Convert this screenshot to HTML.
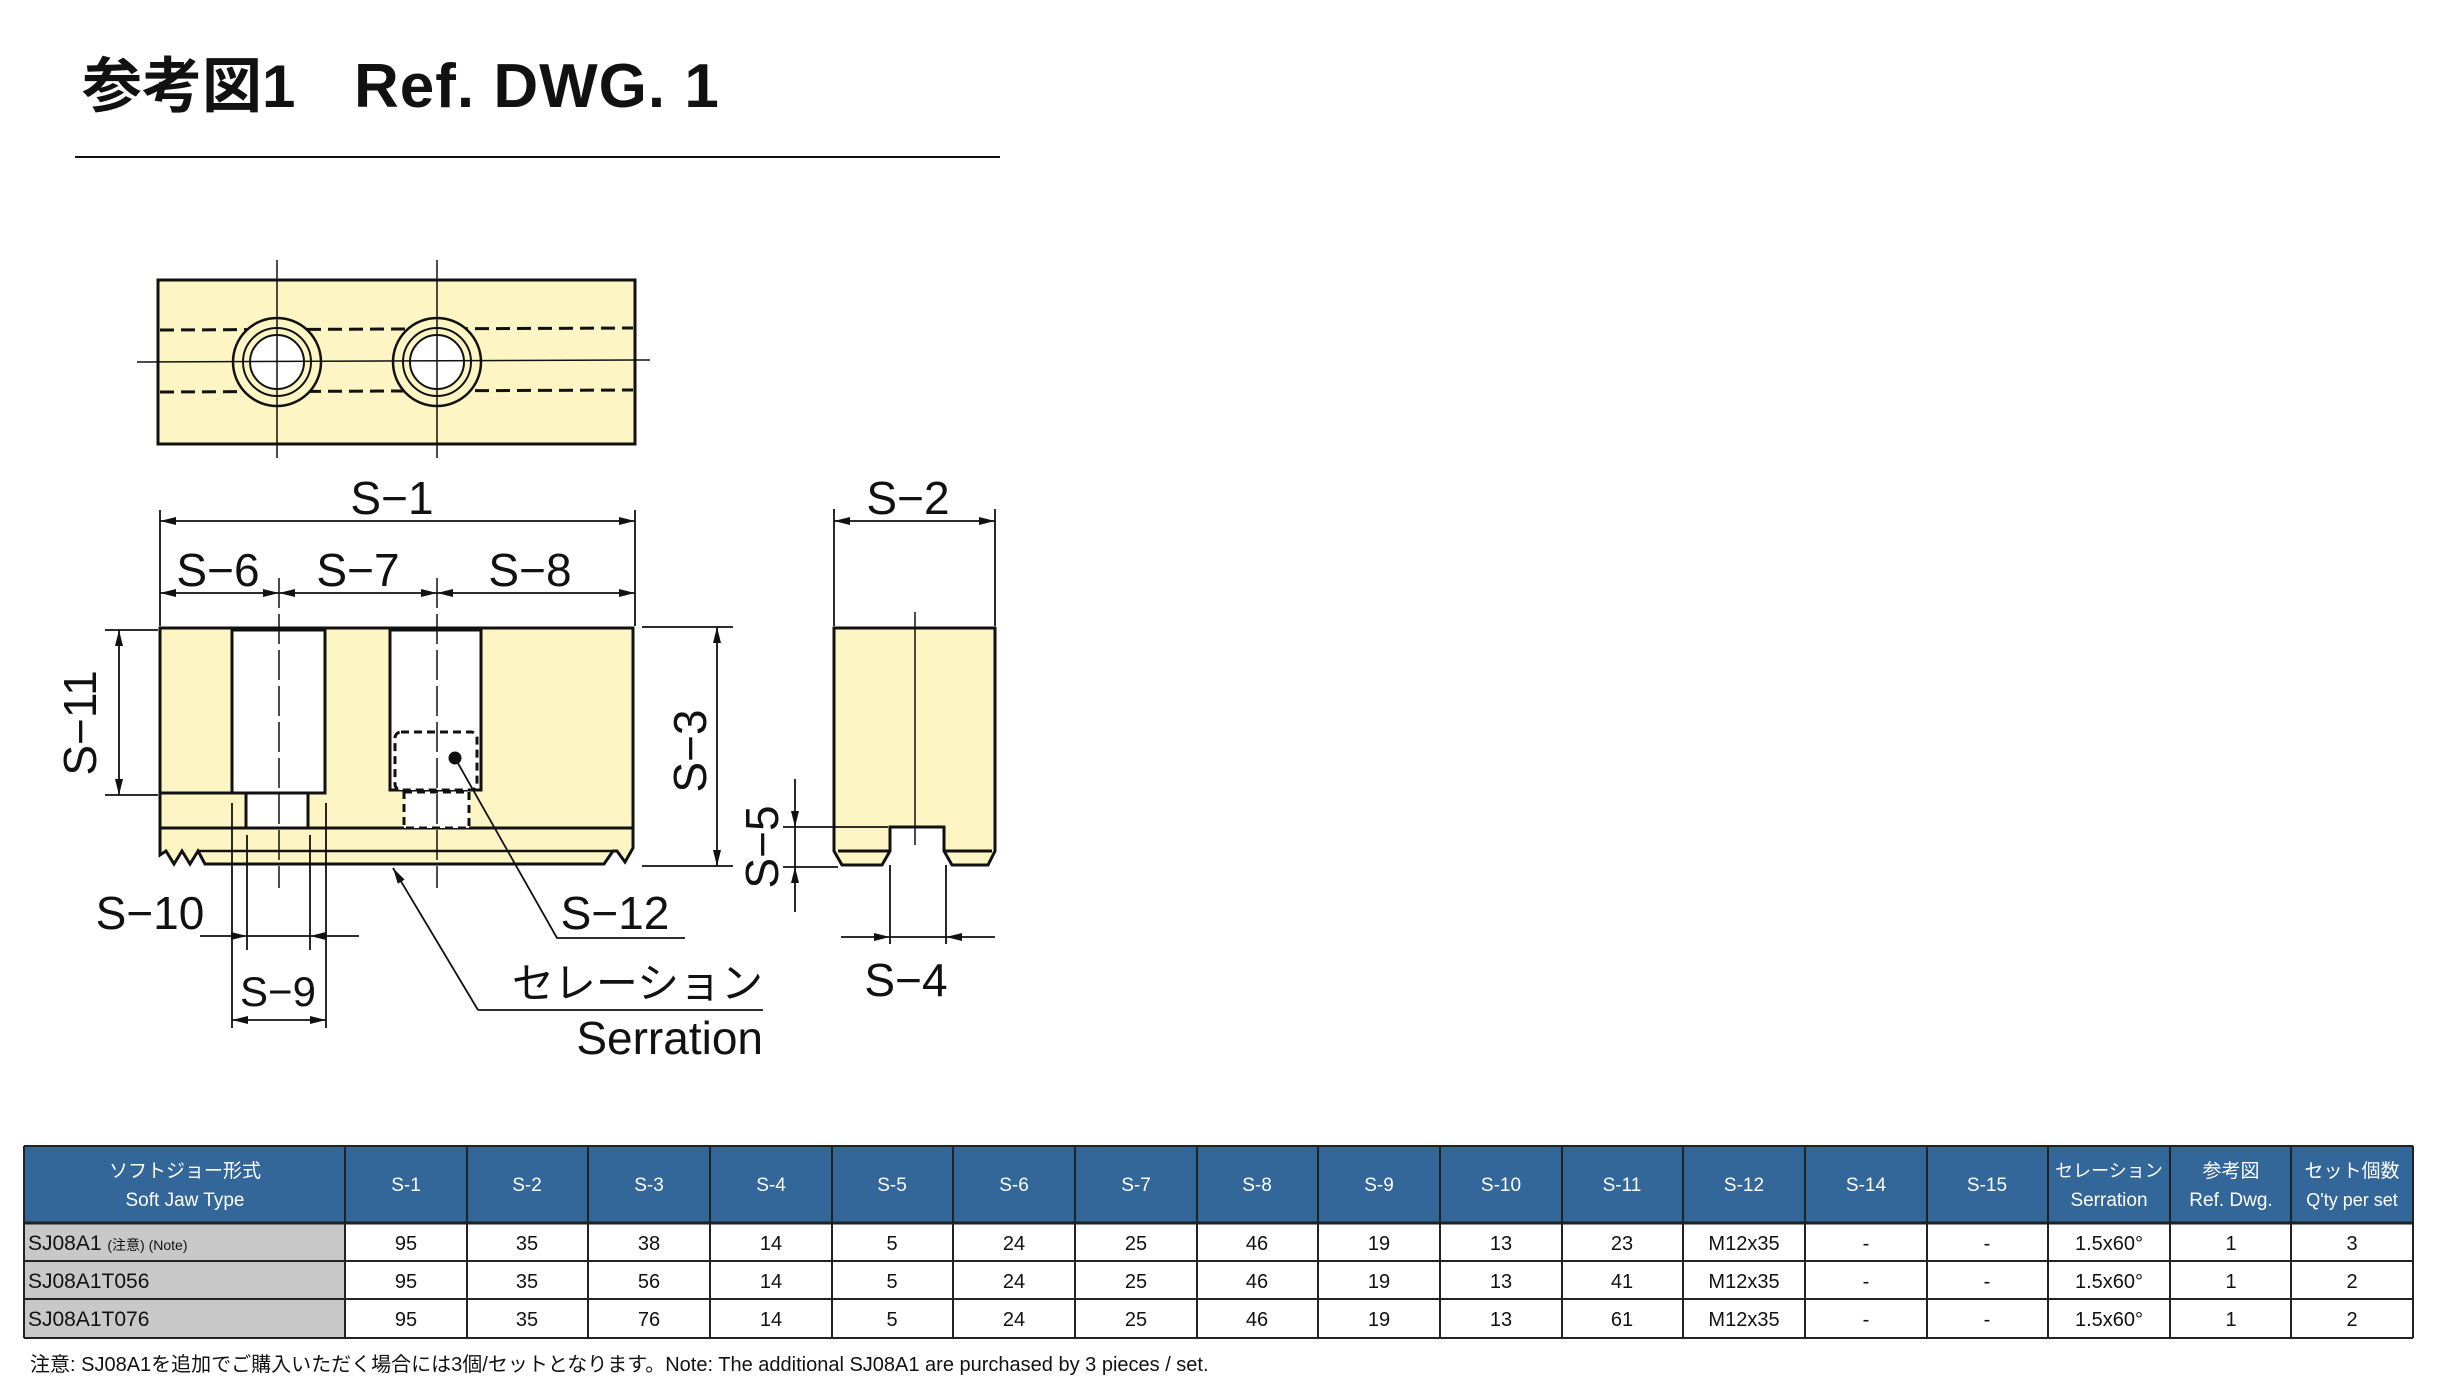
<!DOCTYPE html>
<html><head><meta charset="utf-8"><style>
html,body{margin:0;padding:0;background:#fff;}
svg{display:block;}
text{font-family:"Liberation Sans","Noto Sans CJK JP",sans-serif;}
</style></head><body>
<svg width="2443" height="1400" viewBox="0 0 2443 1400" xmlns="http://www.w3.org/2000/svg">
<defs>
<marker id="a" viewBox="0 0 16 8" refX="16" refY="4" markerWidth="16" markerHeight="8" markerUnits="userSpaceOnUse" orient="auto-start-reverse"><path d="M0,0 L16,4 L0,8 Z" fill="#111"/></marker>
</defs>
<text x="82" y="107" font-size="60" font-weight="bold" fill="#111">参考図1</text>
<text x="354" y="107" font-size="62" fill="#111" font-weight="bold" letter-spacing="1">Ref. DWG. 1</text>
<line x1="75" y1="157" x2="1000" y2="157" stroke="#111" stroke-width="2"/>

<g stroke="#111" fill="none" stroke-width="3">
<rect x="158" y="280" width="477" height="164" fill="#fdf6c4"/>
<line x1="160" y1="330" x2="633" y2="328" stroke-dasharray="14,7"/>
<line x1="160" y1="392" x2="633" y2="390" stroke-dasharray="14,7"/>
<circle cx="277" cy="362" r="44" fill="#fdf6c4" stroke-width="2.5"/>
<circle cx="277" cy="362" r="34" fill="#fdf6c4" stroke-width="2"/>
<circle cx="277" cy="362" r="27" fill="#fff" stroke-width="2"/>
<circle cx="437" cy="362" r="44" fill="#fdf6c4" stroke-width="2.5"/>
<circle cx="437" cy="362" r="34" fill="#fdf6c4" stroke-width="2"/>
<circle cx="437" cy="362" r="27" fill="#fff" stroke-width="2"/>
<g stroke-width="1.5">
<line x1="277" y1="260" x2="277" y2="458"/><line x1="437" y1="260" x2="437" y2="458"/>
<line x1="137" y1="362" x2="650" y2="360"/>
</g>

<path d="M160,628 H633 V848 L625,862 L617,851 L613,851 L604,864 H205 L198,851 L190,864 L182,851 L174,864 L166,851 L160,855 Z" fill="#fdf6c4"/>
<line x1="160" y1="828" x2="633" y2="828"/>
<line x1="198" y1="851" x2="613" y2="851" stroke-width="2.5"/>
<line x1="160" y1="793" x2="232" y2="793"/>
<rect x="232" y="630" width="93" height="163" fill="#fff"/>
<rect x="246" y="793" width="62" height="35" fill="#fff"/>
<rect x="390" y="630" width="91" height="160" fill="#fff"/>
<rect x="395" y="732" width="82" height="58" rx="6" fill="#fff" stroke-dasharray="8,5"/>
<rect x="404" y="792" width="65" height="36" fill="#fff" stroke-dasharray="8,5"/>
<circle cx="455" cy="758" r="5" fill="#111"/>
<g stroke-width="1.5">
<line x1="279" y1="578" x2="279" y2="888" stroke-dasharray="30,6"/>
<line x1="437" y1="578" x2="437" y2="888" stroke-dasharray="30,6"/>
</g>

<path d="M834,628 H995 V851 L988,865 H952 L944,851 V827 H890 V851 L882,865 H842 L834,851 Z" fill="#fdf6c4"/>
<line x1="838" y1="851" x2="890" y2="851"/><line x1="944" y1="851" x2="992" y2="851"/>
<line x1="915" y1="612" x2="915" y2="845" stroke-width="1.5"/>
</g>

<g stroke="#111" stroke-width="1.8" fill="none">
<line x1="160" y1="510" x2="160" y2="626"/><line x1="635" y1="510" x2="635" y2="626"/>
<line x1="160" y1="521" x2="635" y2="521" marker-start="url(#a)" marker-end="url(#a)"/>
<line x1="160" y1="593" x2="279" y2="593" marker-start="url(#a)" marker-end="url(#a)"/>
<line x1="279" y1="593" x2="437" y2="593" marker-start="url(#a)" marker-end="url(#a)"/>
<line x1="437" y1="593" x2="635" y2="593" marker-start="url(#a)" marker-end="url(#a)"/>
<line x1="105" y1="630" x2="158" y2="630"/><line x1="105" y1="795" x2="158" y2="795"/>
<line x1="119" y1="630" x2="119" y2="795" marker-start="url(#a)" marker-end="url(#a)"/>
<line x1="642" y1="627" x2="733" y2="627"/><line x1="642" y1="866" x2="733" y2="866"/>
<line x1="717" y1="627" x2="717" y2="866" marker-start="url(#a)" marker-end="url(#a)"/>
<line x1="834" y1="509" x2="834" y2="626"/><line x1="995" y1="509" x2="995" y2="626"/>
<line x1="834" y1="521" x2="995" y2="521" marker-start="url(#a)" marker-end="url(#a)"/>
<line x1="783" y1="827" x2="888" y2="827"/><line x1="783" y1="867" x2="838" y2="867"/>
<line x1="795" y1="779" x2="795" y2="827" marker-end="url(#a)"/>
<line x1="795" y1="912" x2="795" y2="867" marker-end="url(#a)"/>
<line x1="795" y1="827" x2="795" y2="867"/>
<line x1="890" y1="865" x2="890" y2="944"/><line x1="946" y1="865" x2="946" y2="944"/>
<line x1="841" y1="937" x2="890" y2="937" marker-end="url(#a)"/>
<line x1="995" y1="937" x2="946" y2="937" marker-end="url(#a)"/>
<line x1="890" y1="937" x2="946" y2="937"/>
<line x1="232" y1="803" x2="232" y2="1028"/><line x1="326" y1="803" x2="326" y2="1028"/>
<line x1="247" y1="835" x2="247" y2="950"/><line x1="310" y1="835" x2="310" y2="950"/>
<line x1="200" y1="936" x2="247" y2="936" marker-end="url(#a)"/>
<line x1="359" y1="936" x2="310" y2="936" marker-end="url(#a)"/>
<line x1="247" y1="936" x2="310" y2="936"/>
<line x1="232" y1="1020" x2="326" y2="1020" marker-start="url(#a)" marker-end="url(#a)"/>
<polyline points="455,758 557,938 685,938"/>
<polyline points="478,1010 763,1010"/>
<line x1="478" y1="1010" x2="393" y2="868" marker-end="url(#a)"/>
</g>

<g fill="#111" font-size="46" text-anchor="middle">
<text x="392" y="514">S−1</text>
<text x="218" y="586">S−6</text>
<text x="358" y="586">S−7</text>
<text x="530" y="586">S−8</text>
<text x="908" y="514">S−2</text>
<text x="150" y="929">S−10</text>
<text x="615" y="929">S−12</text>
<text x="278" y="1006" font-size="42">S−9</text>
<text x="906" y="996">S−4</text>
<text transform="translate(96,723) rotate(-90)">S−11</text>
<text transform="translate(706,751) rotate(-90)">S−3</text>
<text transform="translate(778,847) rotate(-90)">S−5</text>
<text x="763" y="998" text-anchor="end" font-size="42">セレーション</text>
<text x="763" y="1054" text-anchor="end">Serration</text>
</g>

<rect x="24" y="1146" width="2389" height="77" fill="#336699"/>
<rect x="24" y="1223" width="321" height="115" fill="#c8c8c8"/>
<g stroke="#222" stroke-width="2" fill="none">
<line x1="24" y1="1146" x2="2413" y2="1146"/>
<line x1="24" y1="1223" x2="2413" y2="1223" stroke-width="3"/>
<line x1="24" y1="1261" x2="2413" y2="1261"/>
<line x1="24" y1="1299" x2="2413" y2="1299"/>
<line x1="24" y1="1338" x2="2413" y2="1338"/>
<line x1="24" y1="1146" x2="24" y2="1338"/>
<line x1="2413" y1="1146" x2="2413" y2="1338"/>
<line x1="345" y1="1146" x2="345" y2="1338"/><line x1="467" y1="1146" x2="467" y2="1338"/><line x1="588" y1="1146" x2="588" y2="1338"/><line x1="710" y1="1146" x2="710" y2="1338"/><line x1="832" y1="1146" x2="832" y2="1338"/><line x1="953" y1="1146" x2="953" y2="1338"/><line x1="1075" y1="1146" x2="1075" y2="1338"/><line x1="1197" y1="1146" x2="1197" y2="1338"/><line x1="1318" y1="1146" x2="1318" y2="1338"/><line x1="1440" y1="1146" x2="1440" y2="1338"/><line x1="1562" y1="1146" x2="1562" y2="1338"/><line x1="1683" y1="1146" x2="1683" y2="1338"/><line x1="1805" y1="1146" x2="1805" y2="1338"/><line x1="1927" y1="1146" x2="1927" y2="1338"/><line x1="2048" y1="1146" x2="2048" y2="1338"/><line x1="2170" y1="1146" x2="2170" y2="1338"/><line x1="2291" y1="1146" x2="2291" y2="1338"/>
</g>
<g fill="#fff" font-size="19" text-anchor="middle">
<text x="185" y="1177">ソフトジョー形式</text><text x="185" y="1206">Soft Jaw Type</text>
<text x="406" y="1191">S-1</text><text x="527" y="1191">S-2</text><text x="649" y="1191">S-3</text><text x="771" y="1191">S-4</text><text x="892" y="1191">S-5</text><text x="1014" y="1191">S-6</text><text x="1136" y="1191">S-7</text><text x="1257" y="1191">S-8</text><text x="1379" y="1191">S-9</text><text x="1501" y="1191">S-10</text><text x="1622" y="1191">S-11</text><text x="1744" y="1191">S-12</text><text x="1866" y="1191">S-14</text><text x="1987" y="1191">S-15</text>
<text x="2109" y="1177" font-size="18">セレーション</text><text x="2109" y="1206">Serration</text>
<text x="2231" y="1177">参考図</text><text x="2231" y="1206">Ref. Dwg.</text>
<text x="2352" y="1177">セット個数</text><text x="2352" y="1206" font-size="18">Q'ty per set</text>
</g>
<g fill="#111" font-size="21">
<text x="28" y="1250">SJ08A1 <tspan font-size="14">(注意) (Note)</tspan></text>
<text x="28" y="1288">SJ08A1T056</text>
<text x="28" y="1326">SJ08A1T076</text>
</g>
<g fill="#111" font-size="20" text-anchor="middle">
<text x="406" y="1250">95</text><text x="527" y="1250">35</text><text x="649" y="1250">38</text><text x="771" y="1250">14</text><text x="892" y="1250">5</text><text x="1014" y="1250">24</text><text x="1136" y="1250">25</text><text x="1257" y="1250">46</text><text x="1379" y="1250">19</text><text x="1501" y="1250">13</text><text x="1622" y="1250">23</text><text x="1744" y="1250">M12x35</text><text x="1866" y="1250">-</text><text x="1987" y="1250">-</text><text x="2109" y="1250">1.5x60°</text><text x="2231" y="1250">1</text><text x="2352" y="1250">3</text>
<text x="406" y="1288">95</text><text x="527" y="1288">35</text><text x="649" y="1288">56</text><text x="771" y="1288">14</text><text x="892" y="1288">5</text><text x="1014" y="1288">24</text><text x="1136" y="1288">25</text><text x="1257" y="1288">46</text><text x="1379" y="1288">19</text><text x="1501" y="1288">13</text><text x="1622" y="1288">41</text><text x="1744" y="1288">M12x35</text><text x="1866" y="1288">-</text><text x="1987" y="1288">-</text><text x="2109" y="1288">1.5x60°</text><text x="2231" y="1288">1</text><text x="2352" y="1288">2</text>
<text x="406" y="1326">95</text><text x="527" y="1326">35</text><text x="649" y="1326">76</text><text x="771" y="1326">14</text><text x="892" y="1326">5</text><text x="1014" y="1326">24</text><text x="1136" y="1326">25</text><text x="1257" y="1326">46</text><text x="1379" y="1326">19</text><text x="1501" y="1326">13</text><text x="1622" y="1326">61</text><text x="1744" y="1326">M12x35</text><text x="1866" y="1326">-</text><text x="1987" y="1326">-</text><text x="2109" y="1326">1.5x60°</text><text x="2231" y="1326">1</text><text x="2352" y="1326">2</text>
</g>
<text x="30" y="1371" font-size="20" fill="#111">注意: SJ08A1を追加でご購入いただく場合には3個/セットとなります。Note: The additional SJ08A1 are purchased by 3 pieces / set.</text>
</svg>
</body></html>
